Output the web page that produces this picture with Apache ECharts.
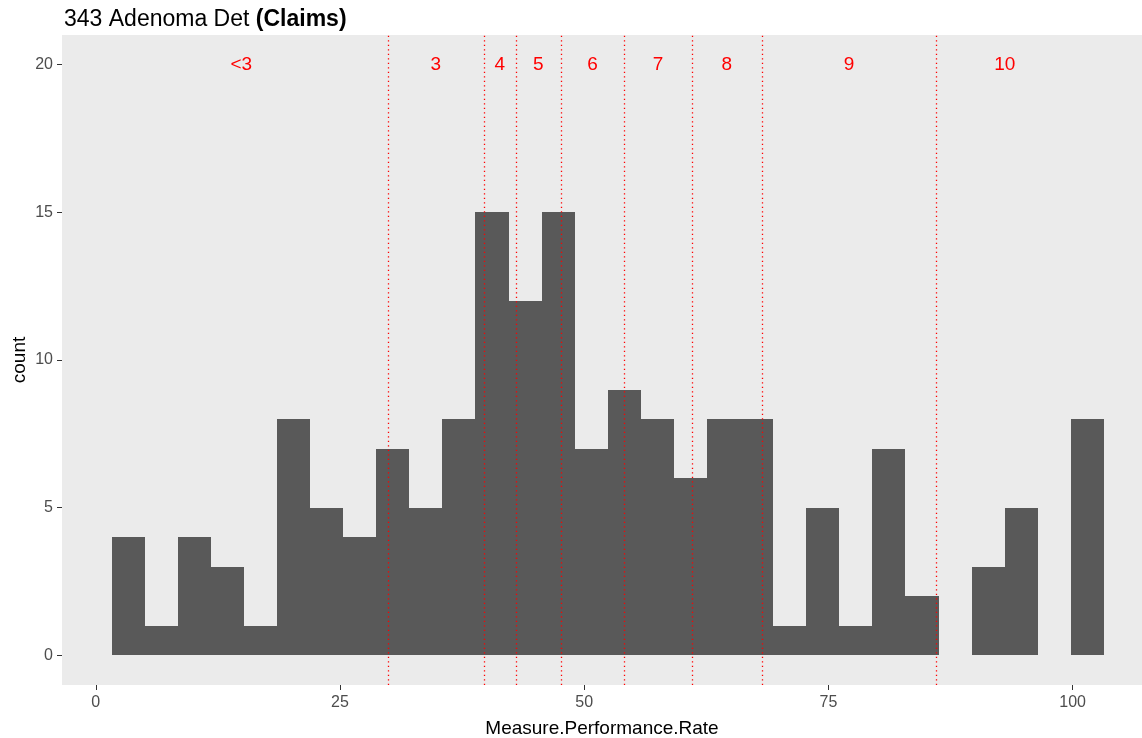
<!DOCTYPE html>
<html>
<head>
<meta charset="utf-8">
<script src="https://cdn.jsdelivr.net/npm/echarts@6/dist/echarts.min.js"></script>
<style>html,body{margin:0;padding:0;background:#fff}#c{width:1142px;height:738px}</style>
</head>
<body>
<div id="c"></div>
<script>
// Histogram: 30 bins
const binStart = 1.62;
const binWidth = 3.386;
const counts = [4,1,4,3,1,8,5,4,7,5,8,15,12,15,7,9,8,6,8,8,1,5,1,7,2,0,3,5,0,8];
// Decile cut lines
const cutLines = [29.91,39.69,43.01,47.61,54.09,61.02,68.22,86.06];
// Labels above
const labelText = ['<3','3','4','5','6','7','8','9','10'];
const labelX = [14.9,34.8,41.35,45.3,50.85,57.55,64.6,77.1,93.05];
const labelY = 20;
const xTicks = [0,25,50,75,100];
const yTicks = [0,5,10,15,20];

const binData = counts.map((c,i)=>[binStart+i*binWidth, binStart+(i+1)*binWidth, c]);
const labelData = labelText.map((t,i)=>[labelX[i], labelY, t]);
const lineData = cutLines.map(v=>[v]);

const FONT = 'Liberation Sans, Arial, sans-serif';
const chart = echarts.init(document.getElementById('c'), null, {renderer:'canvas'});
chart.setOption({
  animation:false,
  backgroundColor:'#ffffff',
  title:{text:'343 Adenoma Det {b|(Claims)}', left:59, top:3,
    textStyle:{fontFamily:FONT, fontSize:23, fontWeight:'normal', color:'#000',
      rich:{b:{fontFamily:FONT, fontSize:23, fontWeight:'bold', color:'#000'}}}},
  grid:{left:62, right:0, top:35, bottom:53, show:true, backgroundColor:'#EBEBEB', borderWidth:0,
    outerBoundsMode:'none', containLabel:false},
  xAxis:{type:'value', min:-3.46, max:107.1,
    name:'Measure.Performance.Rate', nameLocation:'middle', nameGap:34,
    nameTextStyle:{fontFamily:FONT, fontSize:19, color:'#000'},
    axisLine:{show:false, onZero:false}, splitLine:{show:false},
    axisTick:{show:true, length:5, lineStyle:{color:'#333'}, customValues:xTicks},
    axisLabel:{fontFamily:FONT, fontSize:16, color:'#4D4D4D', margin:10, customValues:xTicks}},
  yAxis:{type:'value', min:-1, max:21,
    name:'count', nameLocation:'middle', nameGap:33, nameRotate:90, nameMoveOverlap:false,
    nameTextStyle:{fontFamily:FONT, fontSize:19, color:'#000'},
    axisLine:{show:false, onZero:false}, splitLine:{show:false},
    axisTick:{show:true, length:5, lineStyle:{color:'#333'}, customValues:yTicks},
    axisLabel:{fontFamily:FONT, fontSize:16, color:'#4D4D4D', margin:9, customValues:yTicks}},
  series:[
    {type:'custom', data:binData, encode:{x:[0,1], y:2},
      renderItem:function(params, api){
        if (api.value(2) <= 0) return null;
        const p0 = api.coord([api.value(0), api.value(2)]);
        const p1 = api.coord([api.value(1), 0]);
        const x0 = Math.round(p0[0]), x1 = Math.round(p1[0]);
        const y0 = Math.round(p0[1]), y1 = Math.round(p1[1]);
        return {type:'rect', shape:{x:x0, y:y0, width:x1-x0, height:y1-y0},
          style:{fill:'#595959'}};
      },
      z:2
    },
    {type:'custom', data:lineData, encode:{x:0},
      renderItem:function(params, api){
        const a = api.coord([api.value(0), -1]);
        const b = api.coord([api.value(0), 21]);
        return {type:'line', shape:{x1:Math.round(a[0])+0.5, y1:a[1], x2:Math.round(a[0])+0.5, y2:b[1]},
          style:{stroke:'#FF0000', lineWidth:1.3, lineDash:[1.3,3.2]}};
      }, z:3},
    {type:'custom', data:labelData, encode:{x:0, y:1},
      renderItem:function(params, api){
        const p = api.coord([api.value(0), api.value(1)]);
        return {type:'text', x:p[0], y:p[1],
          style:{text:labelText[params.dataIndex], fill:'#FF0000', font:'19px '+FONT, align:'center', verticalAlign:'middle'}};
      }, z:4}
  ]
});
</script>
</body>
</html>
